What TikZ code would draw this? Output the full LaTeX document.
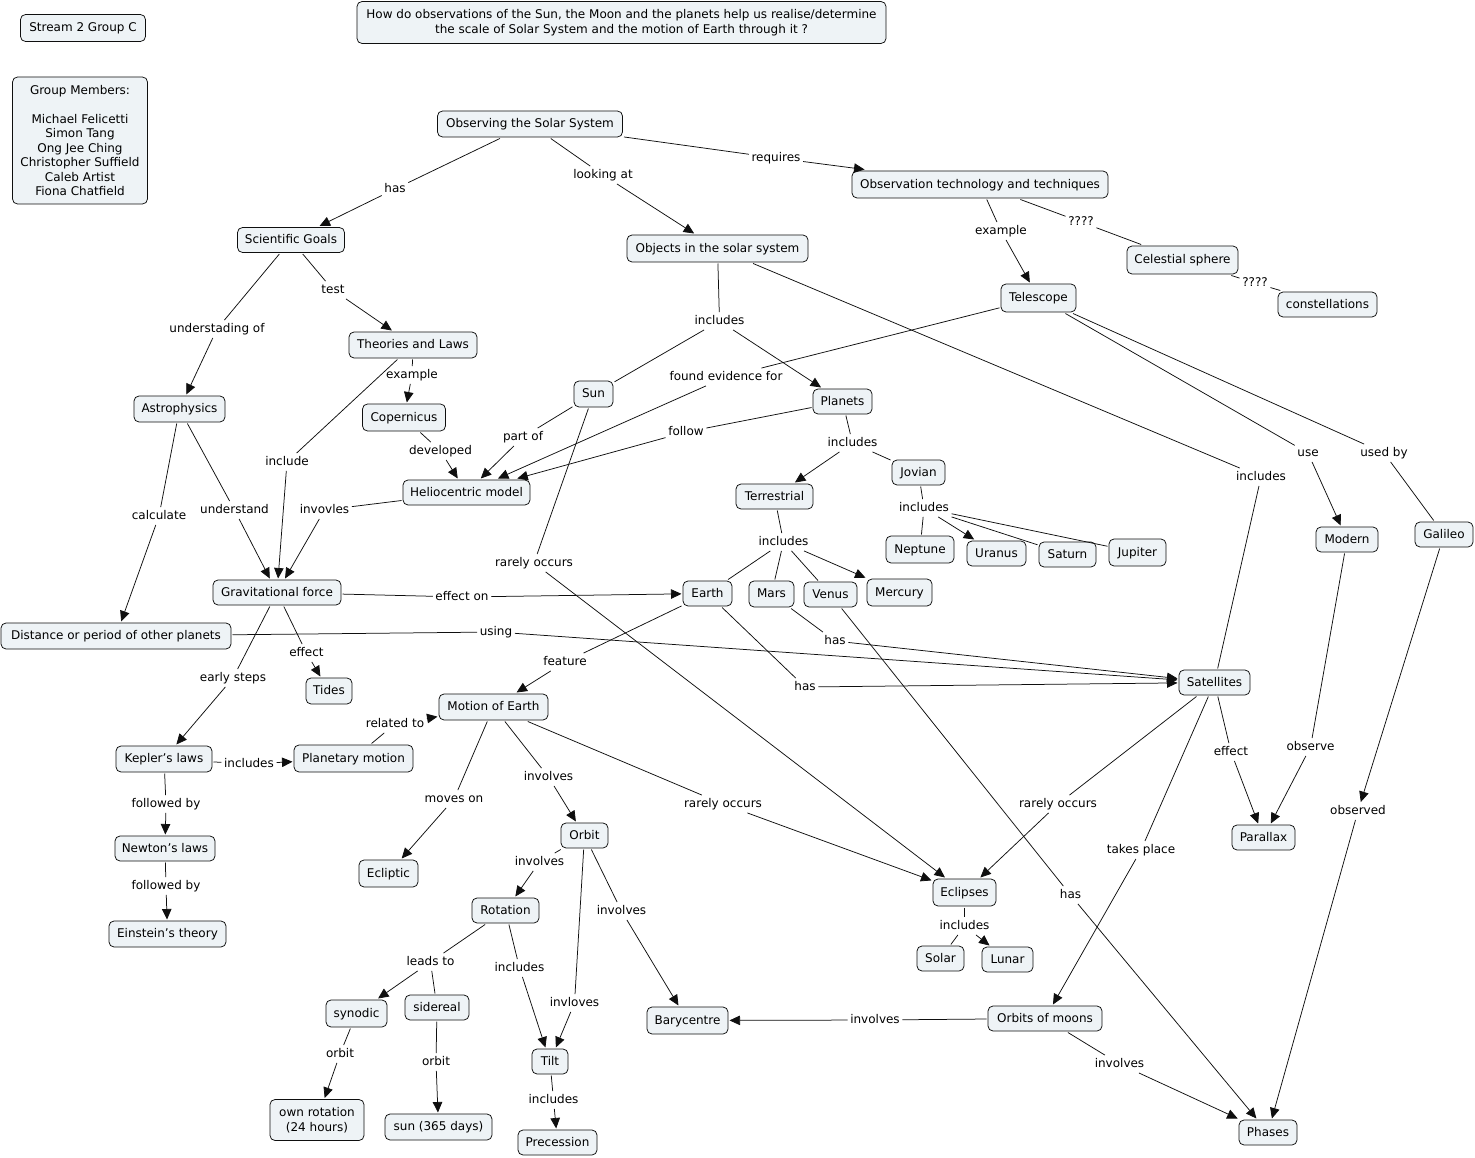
\documentclass[tikz,border=0pt]{standalone}
\usepackage{fontspec}
\setmainfont{DejaVu Sans}
\usetikzlibrary{arrows.meta}
\definecolor{cfill}{RGB}{238,243,246}
\definecolor{cline}{RGB}{15,15,15}
\newcommand\cmlink[3]{\draw[ln] (#1) -- (#2); \draw[ar] (#2) -- (#3);}
\newcommand\cmline[2]{\draw[ln] (#1) -- (#2);}
\newcommand\cmarr[2]{\draw[ar] (#1) -- (#2);}
\newcommand\sq{{\char"0027}}
\begin{document}
\begin{tikzpicture}[x=1pt,y=-1pt,
  font=\fontsize{12}{14.5}\selectfont,
  concept/.style={draw=cline, fill=cfill, rounded corners=5pt, line width=0.75pt,
    inner sep=0pt, minimum height=26pt, outer sep=1.5pt, text height=10pt, text depth=2.5pt},
  mconcept/.style={draw=cline, fill=cfill, rounded corners=5pt, line width=0.75pt,
    inner sep=0pt, outer sep=1.5pt, align=center},
  lbl/.style={inner sep=2.5pt, text height=10pt, text depth=2.5pt},
  ln/.style={line width=0.75pt, draw=cline},
  ar/.style={ln, -{Triangle[length=10.5pt,width=9.5pt]}},
]
\path[use as bounding box, fill=white] (0,0) rectangle (1475,1158);

% ---------- concepts ----------
\node[concept, minimum width=125pt, minimum height=27pt] (stream) at (83,28) {Stream 2 Group C};
\node[mconcept, minimum width=135pt, minimum height=127pt] (members) at (80,140.5)
  {Group Members:\\[14.5pt]Michael Felicetti\\Simon Tang\\Ong Jee Ching\\Christopher Suffield\\Caleb Artist\\Fiona Chatfield};
\node[mconcept, minimum width=529pt, minimum height=42pt] (question) at (621.5,22.5)
  {How do observations of the Sun, the Moon and the planets help us realise/determine\\the scale of Solar System and the motion of Earth through it ?};
\node[concept, minimum width=185pt] (obs) at (530,124) {Observing the Solar System};
\node[concept, minimum width=107pt, minimum height=25pt] (sci) at (291,240) {Scientific Goals};
\node[concept, minimum width=181pt, minimum height=27pt] (objs) at (717.5,248.5) {Objects in the solar system};
\node[concept, minimum width=256pt, minimum height=27pt] (tech) at (980,184.5) {Observation technology and techniques};
\node[concept, minimum width=111pt, minimum height=28pt] (celest) at (1182.5,260) {Celestial sphere};
\node[concept, minimum width=75pt, minimum height=28pt] (tele) at (1038.5,298) {Telescope};
\node[concept, minimum width=99pt, minimum height=25pt] (const) at (1327.5,304.5) {constellations};
\node[concept, minimum width=128pt] (theories) at (413,345) {Theories and Laws};
\node[concept, minimum width=91pt] (astro) at (179.5,409) {Astrophysics};
\node[concept, minimum width=83pt, minimum height=27pt] (cop) at (404,417.5) {Copernicus};
\node[concept, minimum width=39pt] (sun) at (593.5,394) {Sun};
\node[concept, minimum width=59pt, minimum height=25pt] (planets) at (842.5,401.5) {Planets};
\node[concept, minimum width=127pt, minimum height=25pt] (helio) at (466.5,492.5) {Heliocentric model};
\node[concept, minimum width=77pt, minimum height=25pt] (terr) at (774.5,496.5) {Terrestrial};
\node[concept, minimum width=53pt, minimum height=25pt] (jovian) at (918.5,472.5) {Jovian};
\node[concept, minimum width=68pt, minimum height=27pt] (neptune) at (920,549.5) {Neptune};
\node[concept, minimum width=59pt, minimum height=25pt] (uranus) at (996.5,553.5) {Uranus};
\node[concept, minimum width=57pt, minimum height=25pt] (saturn) at (1067.5,554.5) {Saturn};
\node[concept, minimum width=57pt, minimum height=27pt] (jupiter) at (1137.5,552.5) {Jupiter};
\node[concept, minimum width=128pt, minimum height=25pt] (grav) at (277,592.5) {Gravitational force};
\node[concept, minimum width=49pt, minimum height=25pt] (earth) at (707.5,593.5) {Earth};
\node[concept, minimum width=45pt] (mars) at (771.5,594) {Mars};
\node[concept, minimum width=53pt, minimum height=25pt] (venus) at (830.5,594.5) {Venus};
\node[concept, minimum width=65pt, minimum height=27pt] (mercury) at (899.5,592.5) {Mercury};
\node[concept, minimum width=230pt] (dist) at (116,636) {Distance or period of other planets};
\node[concept, minimum width=46pt] (tides) at (329,691) {Tides};
\node[concept, minimum width=71pt, minimum height=25pt] (sat) at (1214.5,682.5) {Satellites};
\node[concept, minimum width=109pt] (motion) at (493.5,707) {Motion of Earth};
\node[concept, minimum width=96pt] (kepler) at (164,759) {Kepler\sq s laws};
\node[concept, minimum width=119pt, minimum height=27pt] (planmot) at (353.5,758.5) {Planetary motion};
\node[concept, minimum width=100pt, minimum height=25pt] (newton) at (165,848.5) {Newton\sq s laws};
\node[concept, minimum width=59pt, minimum height=27pt] (ecliptic) at (388.5,873.5) {Ecliptic};
\node[concept, minimum width=47pt, minimum height=25pt] (orbit) at (584.5,835.5) {Orbit};
\node[concept, minimum width=63pt, minimum height=25pt] (parallax) at (1263.5,837.5) {Parallax};
\node[concept, minimum width=63pt, minimum height=27pt] (eclipses) at (964.5,892.5) {Eclipses};
\node[concept, minimum width=117pt] (einstein) at (167.5,934) {Einstein\sq s theory};
\node[concept, minimum width=67pt, minimum height=25pt] (rotation) at (505.5,910.5) {Rotation};
\node[concept, minimum width=47pt, minimum height=25pt] (solar) at (940.5,958.5) {Solar};
\node[concept, minimum width=51pt, minimum height=25pt] (lunar) at (1007.5,959.5) {Lunar};
\node[concept, minimum width=61pt, minimum height=27pt] (synodic) at (356.5,1013.5) {synodic};
\node[concept, minimum width=64pt, minimum height=25pt] (sidereal) at (437,1007.5) {sidereal};
\node[concept, minimum width=81pt, minimum height=27pt] (bary) at (687.5,1020.5) {Barycentre};
\node[concept, minimum width=114pt, minimum height=25pt] (orbmoons) at (1045,1018.5) {Orbits of moons};
\node[concept, minimum width=36pt, minimum height=25pt] (tilt) at (550,1061.5) {Tilt};
\node[mconcept, minimum width=94pt, minimum height=41pt] (ownrot) at (317,1120) {own rotation\\(24 hours)};
\node[concept, minimum width=107pt] (sun365) at (438.5,1127) {sun (365 days)};
\node[concept, minimum width=79pt, minimum height=25pt] (prec) at (557.5,1142.5) {Precession};
\node[concept, minimum width=58pt, minimum height=25pt] (phases) at (1268,1132.5) {Phases};
\node[concept, minimum width=62pt, minimum height=25pt] (modern) at (1347,539.5) {Modern};
\node[concept, minimum width=58pt, minimum height=25pt] (galileo) at (1444,534.5) {Galileo};

% ---------- linking phrases ----------
\node[lbl] (Lhas1) at (395,189) {has};
\node[lbl] (Llook) at (603,175) {looking at};
\node[lbl] (Lreq) at (776,158) {requires};
\node[lbl] (Lex1) at (1001,231) {example};
\node[lbl] (Lq1) at (1081,222) {????};
\node[lbl] (Lq2) at (1255,283) {????};
\node[lbl] (Ltest) at (333,290) {test};
\node[lbl] (Lund) at (217,329) {understading of};
\node[lbl] (Linc1) at (719.5,321) {includes};
\node[lbl] (Lex2) at (412,375) {example};
\node[lbl] (Lfound) at (726,377) {found evidence for};
\node[lbl] (Lpart) at (523,437) {part of};
\node[lbl] (Lfollow) at (686,432) {follow};
\node[lbl] (Ldev) at (440.5,451) {developed};
\node[lbl] (Linc2) at (852.5,443) {includes};
\node[lbl] (Linclude) at (287,462) {include};
\node[lbl] (Lcalc) at (159,516) {calculate};
\node[lbl] (Lunderstand) at (234.5,510) {understand};
\node[lbl] (Linvovles) at (324.5,510) {invovles};
\node[lbl] (Linc3) at (924,508) {includes};
\node[lbl] (Linc4) at (783.5,542) {includes};
\node[lbl] (Lrare1) at (534,563) {rarely occurs};
\node[lbl] (Linc5) at (1261,477) {includes};
\node[lbl] (Luse) at (1308,453) {use};
\node[lbl] (Lusedby) at (1384,453) {used by};
\node[lbl] (Leffon) at (462,597) {effect on};
\node[lbl] (Lusing) at (496,632) {using};
\node[lbl] (Lhas2) at (835,641) {has};
\node[lbl] (Leff1) at (306.5,653) {effect};
\node[lbl] (Lfeat) at (565,662) {feature};
\node[lbl] (Learly) at (233,678) {early steps};
\node[lbl] (Lhas3) at (805,687) {has};
\node[lbl] (Lrel) at (395,724) {related to};
\node[lbl] (Linc6) at (249,764) {includes};
\node[lbl] (Leff2) at (1231,752) {effect};
\node[lbl] (Lobserve) at (1310.5,747) {observe};
\node[lbl] (Linv1) at (548.5,777) {involves};
\node[lbl] (Lmoves) at (454,799) {moves on};
\node[lbl] (Lrare2) at (723,804) {rarely occurs};
\node[lbl] (Lrare3) at (1058,804) {rarely occurs};
\node[lbl] (Lfb1) at (166,804) {followed by};
\node[lbl] (Lobserved) at (1358,811) {observed};
\node[lbl] (Ltakes) at (1141,850) {takes place};
\node[lbl] (Linv2) at (539.5,862) {involves};
\node[lbl] (Lfb2) at (166,886) {followed by};
\node[lbl] (Lhas4) at (1070.5,895) {has};
\node[lbl] (Linv3) at (621.5,911) {involves};
\node[lbl] (Linc7) at (964.5,926) {includes};
\node[lbl] (Llead) at (430.5,962) {leads to};
\node[lbl] (Linc8) at (519.5,968) {includes};
\node[lbl] (Linvl) at (574.5,1003) {invloves};
\node[lbl] (Linv4) at (875,1020) {involves};
\node[lbl] (Lorb1) at (340,1054) {orbit};
\node[lbl] (Lorb2) at (436,1062) {orbit};
\node[lbl] (Linc9) at (553.5,1100) {includes};
\node[lbl] (Linv5) at (1119.5,1064) {involves};

% ---------- connectors ----------
\cmlink{obs}{Lhas1}{sci}
\cmlink{obs}{Llook}{objs}
\cmlink{obs}{Lreq}{tech}
\cmlink{tech}{Lex1}{tele}
\cmline{tech}{Lq1} \cmline{Lq1}{celest}
\cmline{celest}{Lq2} \cmline{Lq2}{const}
\cmlink{sci}{Ltest}{theories}
\cmlink{sci}{Lund}{astro}
\cmline{objs}{Linc1} \cmline{Linc1}{sun} \cmarr{Linc1}{planets}
\cmlink{theories}{Lex2}{cop}
\cmlink{tele}{Lfound}{helio}
\cmlink{sun}{Lpart}{helio}
\cmlink{planets}{Lfollow}{helio}
\cmlink{cop}{Ldev}{helio}
\cmlink{planets}{Linc2}{terr} \cmline{Linc2}{jovian}
\cmlink{theories}{Linclude}{grav}
\cmlink{astro}{Lcalc}{dist}
\cmlink{astro}{Lunderstand}{grav}
\cmlink{helio}{Linvovles}{grav}
\cmline{jovian}{Linc3} \cmline{Linc3}{neptune} \cmarr{Linc3}{uranus}
\cmline{Linc3}{saturn} \cmline{Linc3}{jupiter}
\cmline{terr}{Linc4} \cmline{Linc4}{earth} \cmline{Linc4}{mars}
\cmline{Linc4}{venus} \cmarr{Linc4}{mercury}
\cmlink{sun}{Lrare1}{eclipses}
\cmline{objs}{Linc5} \cmline{Linc5}{sat}
\cmlink{tele}{Luse}{modern}
\cmline{tele}{Lusedby} \cmline{Lusedby}{galileo}
\cmlink{grav}{Leffon}{earth}
\cmlink{dist}{Lusing}{sat}
\cmlink{mars}{Lhas2}{sat}
\cmlink{grav}{Leff1}{tides}
\cmlink{earth}{Lfeat}{motion}
\cmlink{grav}{Learly}{kepler}
\cmlink{earth}{Lhas3}{sat}
\cmlink{planmot}{Lrel}{motion}
\cmlink{kepler}{Linc6}{planmot}
\cmlink{sat}{Leff2}{parallax}
\cmlink{modern}{Lobserve}{parallax}
\cmlink{motion}{Linv1}{orbit}
\cmlink{motion}{Lmoves}{ecliptic}
\cmlink{motion}{Lrare2}{eclipses}
\cmlink{sat}{Lrare3}{eclipses}
\cmlink{kepler}{Lfb1}{newton}
\cmarr{galileo}{Lobserved} \cmarr{Lobserved}{phases}
\cmlink{sat}{Ltakes}{orbmoons}
\cmlink{orbit}{Linv2}{rotation}
\cmlink{newton}{Lfb2}{einstein}
\cmlink{venus}{Lhas4}{phases}
\cmlink{orbit}{Linv3}{bary}
\cmline{eclipses}{Linc7} \cmline{Linc7}{solar} \cmarr{Linc7}{lunar}
\cmlink{rotation}{Llead}{synodic} \cmline{Llead}{sidereal}
\cmlink{rotation}{Linc8}{tilt}
\cmlink{orbit}{Linvl}{tilt}
\cmlink{orbmoons}{Linv4}{bary}
\cmlink{synodic}{Lorb1}{ownrot}
\cmlink{sidereal}{Lorb2}{sun365}
\cmlink{tilt}{Linc9}{prec}
\cmlink{orbmoons}{Linv5}{phases}
\end{tikzpicture}
\end{document}
